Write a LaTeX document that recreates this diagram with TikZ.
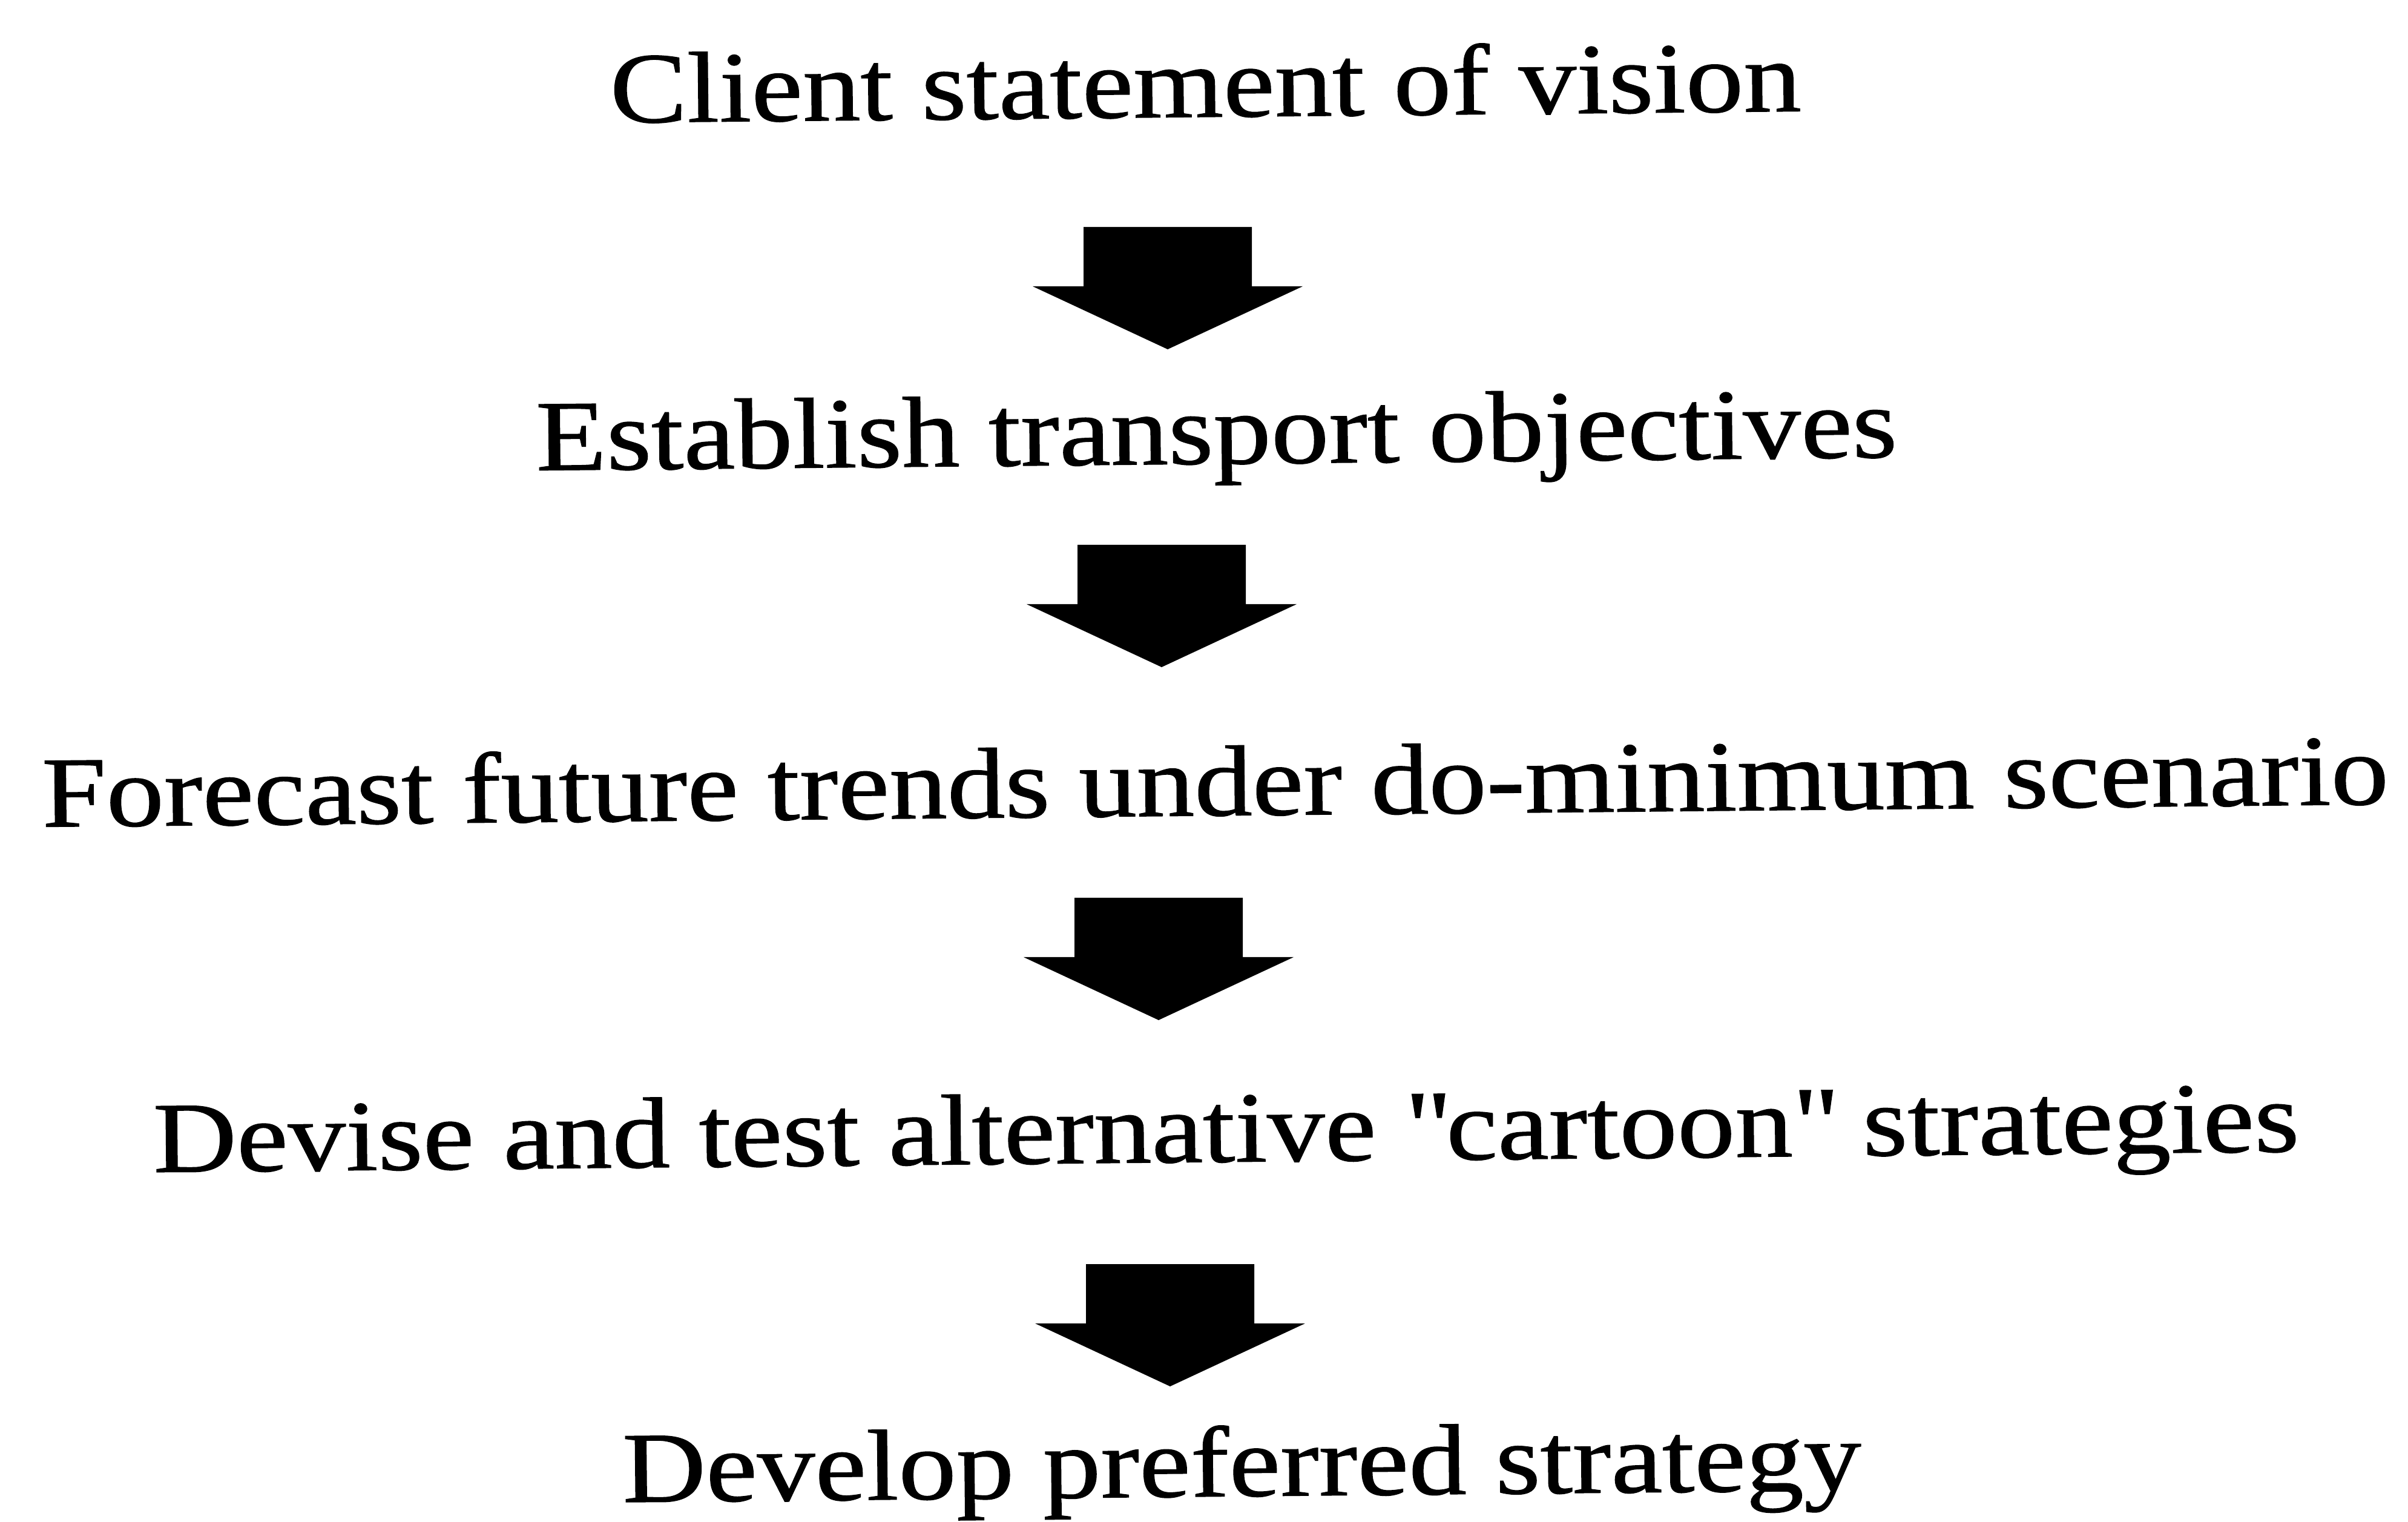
\documentclass[tikz,border=0pt]{standalone}
\usepackage{fontspec}
\setmainfont{Liberation Serif}[FakeStretch=1.15,FakeBold=0.8]
\usetikzlibrary{positioning}

\tikzset{
  stage/.style={anchor=base,inner sep=0pt,rotate=0.55,
    font=\fontsize{18.9}{22}\selectfont},
  blockarrow/.style={fill=black}
}

\begin{document}
\begin{tikzpicture}
    \useasboundingbox (0,0) rectangle (15.912,-10.056);

% the five stages, placed on their base lines
    \node[stage] (vision)   at (7.968,-0.772) {Client statement of vision};
    \node[stage] (objects)  at (8.040,-3.064) {Establish transport objectives};
    \node[stage] (forecast) at (8.032,-5.388) {Forecast future trends under do-minimum scenario};
    \node[stage] (cartoon)  at (8.104,-7.676) {Devise and test alternative \textquotedbl cartoon\textquotedbl{} strategies};
    \node[stage] (develop)  at (8.208,-9.885) {Develop preferred strategy};

% fat arrows in between: top middle of the shaft is the coordinate
      \foreach \name/\x/\y in {
          a1/7.716/-1.500,
          a2/7.676/-3.600,
          a3/7.656/-5.932,
          a4/7.732/-8.352}
      {
        \coordinate (\name) at (\x,\y);
        \fill[blockarrow,shift={(\name)}] (-0.556,0) -- (0.556,0) -- (0.556,-0.392)
          -- (0.892,-0.392) -- (0,-0.808) -- (-0.892,-0.392) -- (-0.556,-0.392) -- cycle;
      };

    \end{tikzpicture}
\end{document}
